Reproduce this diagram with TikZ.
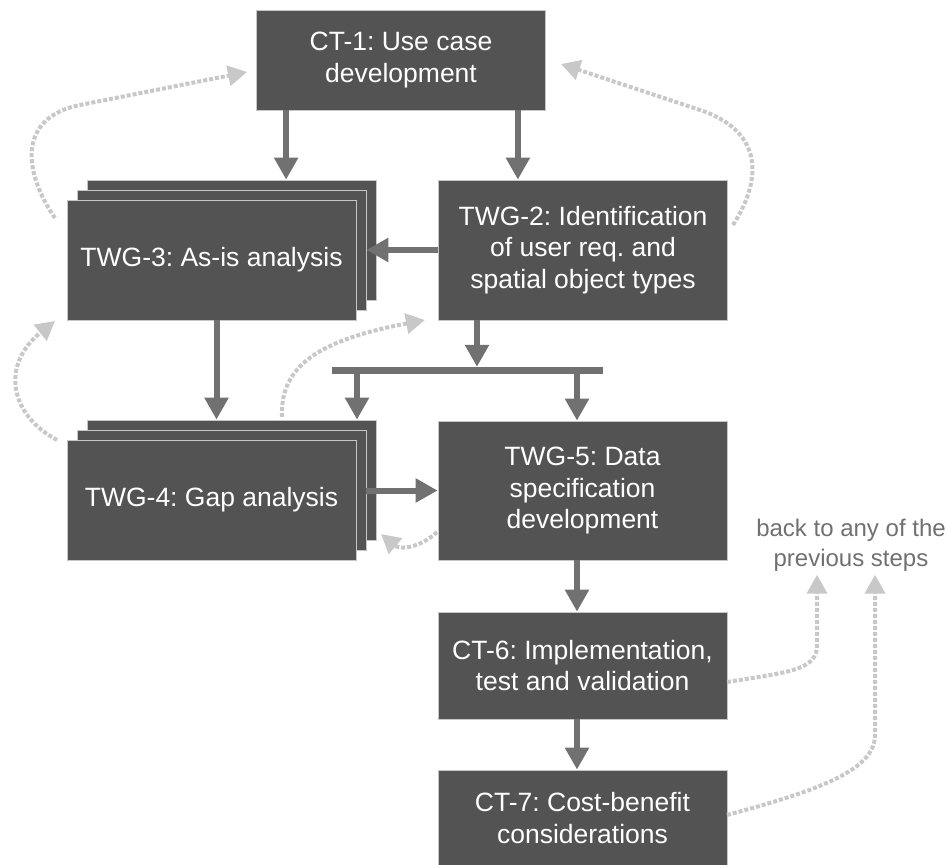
\documentclass[tikz,border=0pt]{standalone}
\usepackage{fontspec}
\setmainfont{Liberation Sans}
\usepackage{tikz}
\usetikzlibrary{arrows.meta}
\usetikzlibrary{positioning}
\frenchspacing

\definecolor{boxgray}{RGB}{83,83,83}
\definecolor{flowgray}{RGB}{113,113,113}
\definecolor{backgray}{RGB}{200,200,200}
\definecolor{notegray}{RGB}{112,112,112}

\tikzset{
	stepbox/.style={rectangle, fill=boxgray, draw=gray!45, line width=0.8pt, text=white, align=center,
		inner sep=0pt, minimum width=289pt, font=\fontsize{26.5}{31.5}\selectfont},
	flow/.style={draw=flowgray, line width=6pt, -{Triangle[width=23pt,length=22pt]}},
	goback/.style={draw=backgray, line width=4pt, dash pattern=on 4pt off 2pt,
		-{Triangle[width=20pt,length=19pt]}},
}

\begin{document}
\begin{tikzpicture}[x=1pt,y=-1pt]
			
			\useasboundingbox (0,0) rectangle (946,865);
			
			\node[stepbox, minimum height=100pt] (ct1) at (401,60) {CT-1: Use case\\development};
			\node[stepbox, minimum height=140pt] (twg2) at (583,250) {TWG-2: Identification\\of user req. and\\spatial object types};
			
			% stacked boxes
			\node[stepbox, minimum height=120pt] (twg3c) at (231.5,240) {};
			\node[stepbox, minimum height=120pt] (twg3b) at (221.5,250) {};
			\node[stepbox, minimum height=120pt] (twg3) at (211.5,260) {TWG-3: As-is analysis};
			\node[stepbox, minimum height=120pt] (twg4c) at (231.5,480) {};
			\node[stepbox, minimum height=120pt] (twg4b) at (221.5,490) {};
			\node[stepbox, minimum height=120pt] (twg4) at (211.5,500) {TWG-4: Gap analysis};
			
			\node[stepbox, minimum height=139pt] (twg5) at (582.5,490.5) {TWG-5: Data\\specification\\development};
			\node[stepbox, minimum height=107pt] (ct6) at (582.5,665.5) {CT-6: Implementation,\\test and validation};
			\node[stepbox, minimum height=96pt] (ct7) at (582.5,818) {CT-7: Cost-benefit\\considerations};
			
			\node[fill=flowgray, inner sep=0pt, minimum width=271pt, minimum height=7pt] (split) at (467.5,370.5) {};
			\node[text=notegray, align=center, font=\fontsize{24}{30}\selectfont] (back) at (851,545) {back to any of the\\previous steps};
			
			\draw[flow] ([xshift=30pt]ct1.south west) -- ([xshift=30pt]ct1.south west |- twg3c.north);
			\draw[flow] ([xshift=-28pt]ct1.south east) -- ([xshift=-28pt]ct1.south east |- twg2.north);
			\draw[flow] (twg2.west) -- (twg2.west -| twg3b.east);
			\draw[flow] ([xshift=5pt]twg3.south) -- ([xshift=5pt]twg3.south |- twg4c.north);
			\draw[flow] ([xshift=-106pt]twg2.south) -- ([xshift=-106pt]twg2.south |- split.north);
			\draw[flow] ([xshift=-110.5pt]split.south) -- ([xshift=-110.5pt]split.south |- twg4c.north);
			\draw[flow] ([xshift=109.5pt]split.south) -- ([xshift=109.5pt]split.south |- twg5.north);
			\draw[flow] (twg5.west -| twg4b.east) -- (twg5.west);
			\draw[flow] ([xshift=-5.5pt]twg5.south) -- ([xshift=-5.5pt]twg5.south |- ct6.north);
			\draw[flow] ([xshift=-5.5pt]ct6.south) -- ([xshift=-5.5pt]ct6.south |- ct7.north);
			
			% feedback loops
			\coordinate (from3) at (55,218);
			\coordinate (to1l) at (247,72);
			\coordinate (from2) at (733,225);
			\coordinate (to1r) at (561,64);
			\coordinate (from4) at (57,440);
			\coordinate (to3) at (55,321);
			\coordinate (from4t) at (282,417);
			\coordinate (to2) at (425,320);
			\coordinate (from5) at (437,532);
			\coordinate (to4) at (381,534);
			\coordinate (from6) at (727,682);
			\coordinate (from7) at (727,815);
			
			\draw[goback] (from3) .. controls (25,175) and (15,118) .. (80,105) -- (to1l);
			\draw[goback] (from2) .. controls (765,175) and (760,130) .. (700,110) -- (to1r);
			\draw[goback] (from4) .. controls (10,415) and (0,365) .. (to3);
			\draw[goback] (from4t) .. controls (280,365) and (320,340) .. (to2);
			\draw[goback] (from5) .. controls (420,548) and (400,550) .. (to4);
			\draw[goback] (from6) .. controls (790,672) and (817,670) .. (817,645) -- (back.south -| 817,0);
			\draw[goback] (from7) .. controls (820,790) and (875,770) .. (875,735) -- (back.south -| 875,0);
			
\end{tikzpicture}
\end{document}
